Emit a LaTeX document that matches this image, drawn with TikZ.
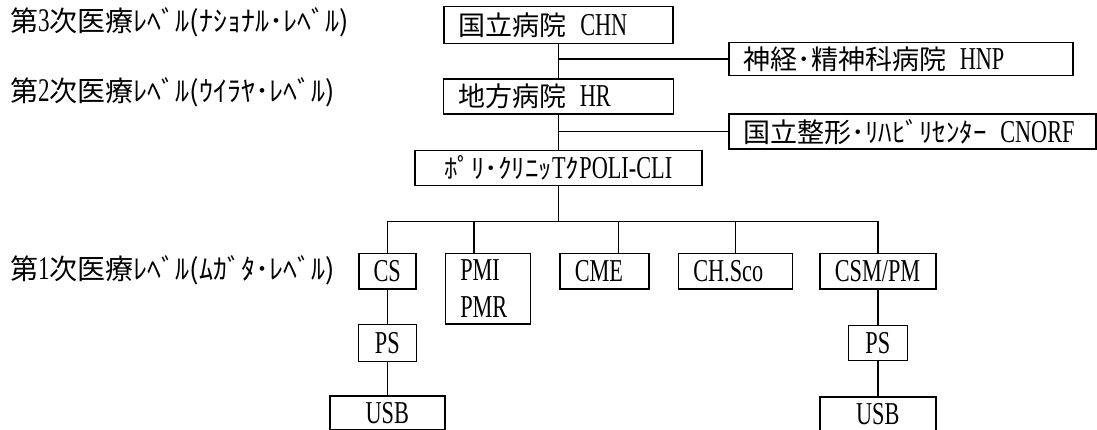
\documentclass[tikz,border=0pt]{standalone}
\usepackage{fontspec}
\setmainfont{Noto Sans CJK JP}
\newfontfamily\latfont[Scale=1.18,FakeStretch=0.7]{Liberation Serif}
\newcommand\lat[1]{{\latfont #1}}
\usetikzlibrary{positioning}
\tikzset{
  lvl/.style={anchor=west,inner sep=0pt,font=\fontsize{28}{28}\selectfont},
  lbox/.style={draw,line width=1.5pt,inner xsep=15pt,inner ysep=0pt,align=left,anchor=north west,font=\fontsize{27}{37}\selectfont},
  cbox/.style={draw,line width=1.5pt,inner sep=0pt,anchor=north west,font=\fontsize{27}{37}\selectfont},
  link/.style={line width=1.5pt}
}

\begin{document}
\begin{tikzpicture}[x=1pt,y=-1pt]
  \useasboundingbox (0,0) rectangle (1097,430);
  \node[lvl] (L3) at (10,22) {第\lat{3}次医療ﾚﾍﾞﾙ(ﾅｼｮﾅﾙ･ﾚﾍﾞﾙ)};
  \node[lvl] (L2) at (10,92) {第\lat{2}次医療ﾚﾍﾞﾙ(ｳｲﾗﾔ･ﾚﾍﾞﾙ)};
  \node[lvl] (L1) at (10,270) {第\lat{1}次医療ﾚﾍﾞﾙ(ﾑｶﾞﾀ･ﾚﾍﾞﾙ)};

  \node[lbox, text width=199pt, minimum height=37pt] (CHN) at (443,6) {国立病院\enspace\lat{CHN}};
  \node[lbox, text width=200pt, minimum height=35pt, below=34pt of CHN] (HR) {地方病院\enspace\lat{HR}};
  \node[cbox, minimum width=287pt, minimum height=35pt, below=35pt of HR] (POLI) {ﾎﾟﾘ･ｸﾘﾆｯ\lat{T}ｸ\lat{POLI-CLI}};
  \node[lbox, text width=314pt, minimum height=33pt] (HNP) at (728,42) {神経･精神科病院\enspace\lat{HNP}};
  \node[lbox, text width=337pt, minimum height=35pt, below=37pt of HNP.south west, anchor=north west] (CNORF) {国立整形･ﾘﾊﾋﾞﾘｾﾝﾀｰ\enspace\lat{CNORF}};

  \node[cbox, minimum width=57pt, minimum height=35pt] (CS) at (358,253) {\lat{CS}};
  \node[lbox, text width=55pt, minimum height=70pt, right=28pt of CS.north east, anchor=north west] (PMI) {\lat{PMI}\\\lat{PMR}};
  \node[lbox, text width=59pt, minimum height=35pt, right=28pt of PMI.north east, anchor=north west] (CME) {\lat{CME}};
  \node[lbox, text width=84pt, minimum height=35pt, right=28pt of CME.north east, anchor=north west] (CHSco) {\lat{CH.Sco}};
  \node[lbox, text width=86pt, minimum height=35pt, right=26pt of CHSco.north east, anchor=north west] (CSMPM) {\lat{CSM/PM}};
  \node[cbox, minimum width=58pt, minimum height=37pt, below=34pt of CS] (PS1) {\lat{PS}};
  \node[cbox, minimum width=115pt, minimum height=34pt, below=33pt of PS1] (USB1) {\lat{USB}};
  \node[cbox, minimum width=59pt, minimum height=35pt, below=35pt of CSMPM] (PS2) {\lat{PS}};
  \node[cbox, minimum width=116pt, minimum height=35pt, below=35pt of PS2] (USB2) {\lat{USB}};

  \coordinate (bus) at ([yshift=-35pt]POLI.south);
  \coordinate (tPMI) at ([xshift=-14pt]PMI.north);
  \coordinate (tCME) at ([xshift=14pt]CME.north);
  \draw[link] (CHN.south) -- (HR.north);
  \draw[link] (HR.south) -- (POLI.north);
  \draw[link] (POLI.south) -- (bus);
  \draw[link] (CHN.south |- HNP.west) -- (HNP.west);
  \draw[link] (HR.south |- CNORF.west) -- (CNORF.west);
  \draw[link] (CS.north) |- (bus) -| (CSMPM.north);
  \draw[link] (tPMI) -- (tPMI |- bus);
  \draw[link] (tCME) -- (tCME |- bus);
  \draw[link] (CHSco.north) -- (CHSco.north |- bus);
  \draw[link] (CS) -- (PS1);
  \draw[link] (PS1) -- (USB1);
  \draw[link] (CSMPM) -- (PS2);
  \draw[link] (PS2) -- (USB2);
\end{tikzpicture}
\end{document}
